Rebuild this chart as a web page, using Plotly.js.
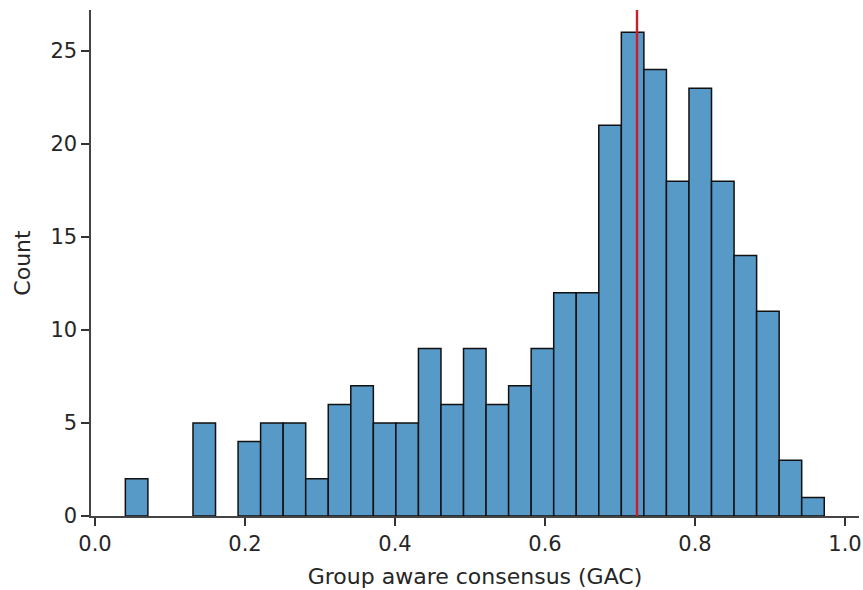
<!DOCTYPE html>
<html>
<head>
<meta charset="utf-8">
<script src="https://cdn.plot.ly/plotly-3.0.1.min.js"></script>
<style>html,body{margin:0;padding:0;background:#fff;}#chart{width:863px;height:590px;}</style>
</head>
<body>
<div id="chart"></div>
<script>
// Histogram of Group aware consensus (GAC)
const binStart = 0.0405;
const binWidth = 0.03006;
const counts = [2, 0, 0, 5, 0, 4, 5, 5, 2, 6, 7, 5, 5, 9, 6, 9, 6, 7, 9, 12, 12, 21, 26, 24, 18, 23, 18, 14, 11, 3, 1];
const markerValue = 0.7227;
const xTicks = [0.0, 0.2, 0.4, 0.6, 0.8, 1.0];
const xTickLabels = ["0.0", "0.2", "0.4", "0.6", "0.8", "1.0"];
const yTicks = [0, 5, 10, 15, 20, 25];
const yTickLabels = ["0", "5", "10", "15", "20", "25"];

const centers = counts.map((c, i) => binStart + binWidth * (i + 0.5));
const xs = [], ys = [];
centers.forEach((c, i) => { if (counts[i] > 0) { xs.push(c); ys.push(counts[i]); } });

const tickFont = {family: "DejaVu Sans, sans-serif", size: 21, color: "#262626"};
const titleFont = {family: "DejaVu Sans, sans-serif", size: 22, color: "#262626"};

const trace = {
  type: "bar",
  x: xs,
  y: ys,
  width: binWidth,
  marker: {color: "rgb(87,153,199)", line: {color: "#111", width: 1.5}},
  hoverinfo: "x+y"
};

const layout = {
  width: 863, height: 590,
  margin: {l: 91, r: 4, t: 10, b: 74},
  paper_bgcolor: "#fff", plot_bgcolor: "#fff",
  bargap: 0,
  showlegend: false,
  font: tickFont,
  xaxis: {
    range: [-0.0053, 1.0187],
    tickvals: xTicks, ticktext: xTickLabels,
    ticks: "outside", ticklen: 8, tickwidth: 1.6, tickcolor: "#333",
    showline: true, linecolor: "#444", linewidth: 1.6,
    showgrid: false, zeroline: false,
    tickfont: tickFont,
    automargin: false,
    title: {text: "Group aware consensus (GAC)", font: titleFont, standoff: 14}
  },
  yaxis: {
    range: [0, 27.2],
    tickvals: yTicks, ticktext: yTickLabels,
    ticks: "outside", ticklen: 8, tickwidth: 1.6, tickcolor: "#333",
    showline: true, linecolor: "#444", linewidth: 1.6,
    showgrid: false, zeroline: false,
    tickfont: tickFont,
    automargin: false,
    title: {text: "Count", font: titleFont, standoff: 14}
  },
  shapes: [{
    type: "line", xref: "x", yref: "paper",
    x0: markerValue, x1: markerValue, y0: 0, y1: 1,
    line: {color: "rgb(205,30,40)", width: 2.4}
  }]
};

Plotly.newPlot("chart", [trace], layout, {displayModeBar: false, staticPlot: true});
</script>
</body>
</html>
